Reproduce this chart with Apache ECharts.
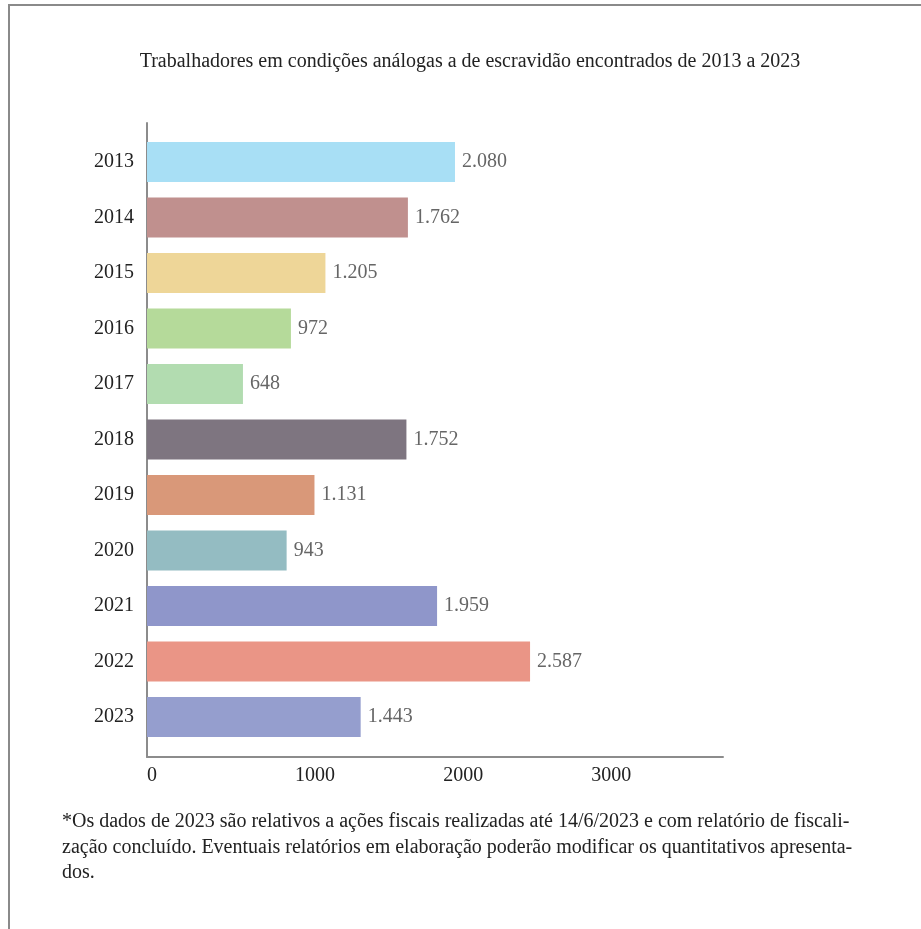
<!DOCTYPE html>
<html>
<head>
<meta charset="utf-8">
<script src="https://cdn.jsdelivr.net/npm/echarts@6/dist/echarts.min.js"></script>
<style>
  html, body { margin: 0; padding: 0; background: #fff; }
  #chart { width: 921px; height: 929px; }
</style>
</head>
<body>
<div id="chart"></div>
<script>
// Trabalhadores resgatados por ano
const years = ['2013', '2014', '2015', '2016', '2017', '2018', '2019', '2020', '2021', '2022', '2023'];
const workers = [2080, 1762, 1205, 972, 648, 1752, 1131, 943, 1959, 2587, 1443];
const barColors = ['#a8dff5', '#c0908e', '#eed698', '#b5da9a', '#b2dcb0', '#7e7580',
                   '#d99879', '#94bcc2', '#8f96ca', '#ea9586', '#959ece'];
const xTicks = [0, 1000, 2000, 3000];

const titleText = 'Trabalhadores em condições análogas a de escravidão encontrados de 2013 a 2023';
const noteLines = [
  '*Os dados de 2023 são relativos a ações fiscais realizadas até 14/6/2023 e com relatório de fiscali-',
  'zação concluído. Eventuais relatórios em elaboração poderão modificar os quantitativos apresenta-',
  'dos.'
];

const serif = '"Liberation Serif", "DejaVu Serif", serif';
const axisGrey = '#8c8c8c';
const xMax = 3890;

const fmt = v => v.toLocaleString('pt-BR');

const chart = echarts.init(document.getElementById('chart'), null, { renderer: 'canvas' });

chart.setOption({
  backgroundColor: '#fff',
  animation: false,
  title: [
    {
      text: titleText,
      left: 470, top: 52, textAlign: 'center', padding: 0,
      textStyle: { fontFamily: serif, fontSize: 20, fontWeight: 'normal', color: '#222' }
    },
    {
      text: noteLines.join('\n'),
      left: 62, top: 809, padding: 0,
      textStyle: { fontFamily: serif, fontSize: 20, fontWeight: 'normal', color: '#222', lineHeight: 25.5 }
    }
  ],
  graphic: [
    {
      type: 'rect', silent: true,
      shape: { x: 9, y: 5, width: 2000, height: 2000 },
      style: { fill: 'none', stroke: '#8a8a8a', lineWidth: 2 }
    }
  ],
  grid: [
    // axis frame
    { left: 147, top: 123, width: 576, height: 634, containLabel: false },
    // bar area
    { left: 147, top: 134.25, width: 576, height: 610.5, containLabel: false }
  ],
  xAxis: [
    {
      gridIndex: 0, type: 'value', min: 0, max: xMax,
      axisLine: { show: true, lineStyle: { color: axisGrey, width: 2 } },
      axisTick: { show: false },
      splitLine: { show: false },
      axisLabel: {
        customValues: xTicks, align: 'left', margin: 9,
        formatter: v => String(v),
        fontFamily: serif, fontSize: 20, color: '#222'
      }
    },
    {
      gridIndex: 1, type: 'value', min: 0, max: xMax, show: false,
      splitLine: { show: false }
    }
  ],
  yAxis: [
    {
      gridIndex: 0, type: 'value', min: 0, max: 1,
      axisLine: { show: true, lineStyle: { color: axisGrey, width: 2 } },
      axisTick: { show: false }, axisLabel: { show: false }, splitLine: { show: false }
    },
    {
      gridIndex: 1, type: 'category', data: years, inverse: true,
      axisLine: { show: false }, axisTick: { show: false }, splitLine: { show: false },
      axisLabel: { margin: 13, padding: [5, 0, 0, 0], fontFamily: serif, fontSize: 20, color: '#222' }
    }
  ],
  series: [
    {
      type: 'bar', xAxisIndex: 1, yAxisIndex: 1,
      barWidth: 40,
      data: workers.map((v, i) => ({ value: v, itemStyle: { color: barColors[i] } })),
      label: {
        show: true, position: 'right', distance: 7, padding: [5, 0, 0, 0],
        formatter: p => fmt(p.value),
        fontFamily: serif, fontSize: 20, color: '#666'
      }
    }
  ]
});
</script>
</body>
</html>
